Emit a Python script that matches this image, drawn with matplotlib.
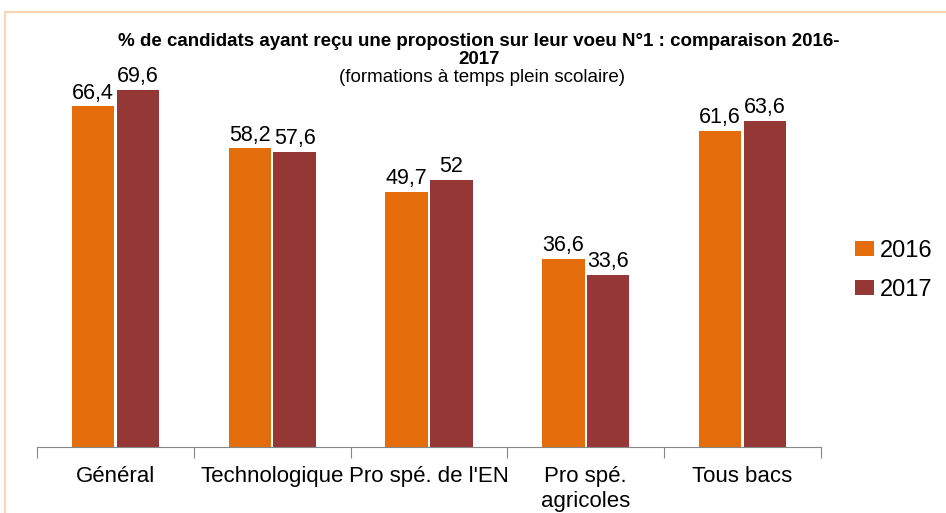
import matplotlib.pyplot as plt
import matplotlib.patches as mpatches
import numpy as np

plt.rcParams['font.family'] = ['Liberation Sans', 'DejaVu Sans']

categories = ['Général', 'Technologique', "Pro spé. de l'EN", 'Pro spé.\nagricoles', 'Tous bacs']
values_2016 = [66.4, 58.2, 49.7, 36.6, 61.6]
values_2017 = [69.6, 57.6, 52.0, 33.6, 63.6]
labels_2016 = ['66,4', '58,2', '49,7', '36,6', '61,6']
labels_2017 = ['69,6', '57,6', '52', '33,6', '63,6']

c2016 = '#E46C0A'
c2017 = '#953735'

fig = plt.figure(figsize=(9.46, 5.13), dpi=100)
# light frame around the chart
fig.patches.append(mpatches.Rectangle((5 / 946, -0.1), 1.1, (513 - 12) / 513 + 0.1,
                                      transform=fig.transFigure, fill=False,
                                      edgecolor='#FCD5B4', linewidth=1.5))

ax = fig.add_axes([37 / 946, 66 / 513, 784 / 946, 387 / 513])
x = np.arange(len(categories))
w = 0.27
off = 0.143
b1 = ax.bar(x - off, values_2016, w, color=c2016, label='2016')
b2 = ax.bar(x + off, values_2017, w, color=c2017, label='2017')

for bars, labs in ((b1, labels_2016), (b2, labels_2017)):
    for bar, lab in zip(bars, labs):
        ax.annotate(lab, (bar.get_x() + bar.get_width() / 2, bar.get_height()),
                    xytext=(0, 2), textcoords='offset points',
                    ha='center', va='bottom', fontsize=15.5)

ax.set_xlim(-0.5, len(categories) - 0.5)
ax.set_ylim(0, 387 / 5.13)
for s in ('top', 'right', 'left'):
    ax.spines[s].set_visible(False)
ax.spines['bottom'].set_color('#868686')
ax.set_yticks([])
ax.set_xticks(np.arange(len(categories) + 1) - 0.5, minor=False)
ax.set_xticklabels([])
ax.set_xticks(x, minor=True)
ax.set_xticklabels(categories, minor=True, fontsize=16)
ax.tick_params(axis='x', which='major', direction='out', length=8, color='#868686')
ax.tick_params(axis='x', which='minor', length=0, pad=14)

fig.text(0.506, 1 - 42 / 513, '% de candidats ayant reçu une propostion sur leur voeu N°1 : comparaison 2016-',
         ha='center', va='center', fontsize=13.5, fontweight='bold')
fig.text(0.506, 1 - 60 / 513, '2017', ha='center', va='center', fontsize=13.5, fontweight='bold')
fig.text(0.509, 1 - 78 / 513, '(formations à temps plein scolaire)', ha='center', va='center', fontsize=13.5)

ax.legend(loc='center left', bbox_to_anchor=(1.016, 0.456), frameon=False, fontsize=17,
          handlelength=0.8, handleheight=0.6, labelspacing=0.7, handletextpad=0.25)

fig.savefig('out.png', dpi=100)
